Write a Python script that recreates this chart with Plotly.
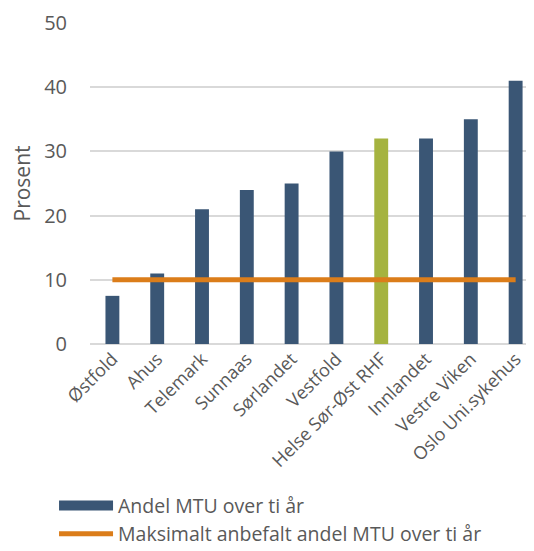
import plotly.graph_objects as go

categories = ["Østfold", "Ahus", "Telemark", "Sunnaas", "Sørlandet", "Vestfold",
              "Helse Sør-Øst RHF", "Innlandet", "Vestre Viken", "Oslo Uni.sykehus"]
andel = [7.5, 11, 21, 24, 25, 30, 32, 32, 35, 41]
maks = [10] * len(categories)
bar_colors = ["#3A5675"] * 6 + ["#A5B33F"] + ["#3A5675"] * 3

FONT = "Open Sans"
GREY = "#595959"
fig = go.Figure()
fig.add_trace(go.Bar(x=categories, y=andel, name="Andel MTU over ti år",
                     marker=dict(color=bar_colors, line=dict(width=0)), width=0.31,
                     showlegend=False))
# legend entry for the bar series (wide rectangle as in the reference)
fig.add_trace(go.Scatter(x=[None], y=[None], mode="lines", name="Andel MTU over ti år",
                         line=dict(color="#3A5675", width=13), legendgroup="a"))
fig.add_trace(go.Scatter(x=categories, y=maks, mode="lines",
                         name="Maksimalt anbefalt andel MTU over ti år",
                         line=dict(color="#DB7D1A", width=5), legendgroup="b"))
fig.update_layout(
    width=526, height=543,
    margin=dict(l=82, r=0, t=15, b=207, autoexpand=False),
    plot_bgcolor="white", paper_bgcolor="white",
    font=dict(family=FONT, color=GREY),
    showlegend=True,
    legend=dict(x=-0.081, y=-0.443, xanchor="left", yanchor="top",
                font=dict(size=19.5, color=GREY), tracegroupgap=0,
                itemwidth=54, bgcolor="rgba(0,0,0,0)"),
    xaxis=dict(tickangle=-45, tickfont=dict(size=18, color=GREY),
               showgrid=False, showline=False, ticks="", automargin=False,
               range=[-0.5, 9.41]),
    yaxis=dict(range=[0, 50], dtick=10, showgrid=True, gridcolor="#D9D9D9",
               gridwidth=1.5, zeroline=True, zerolinecolor="#D9D9D9", zerolinewidth=1.5,
               tickfont=dict(size=20, color=GREY), ticklabelstandoff=22,
               automargin=False,
               title=dict(text="Prosent", font=dict(size=21, color=GREY), standoff=11)),
)
fig.write_html("out.html")
